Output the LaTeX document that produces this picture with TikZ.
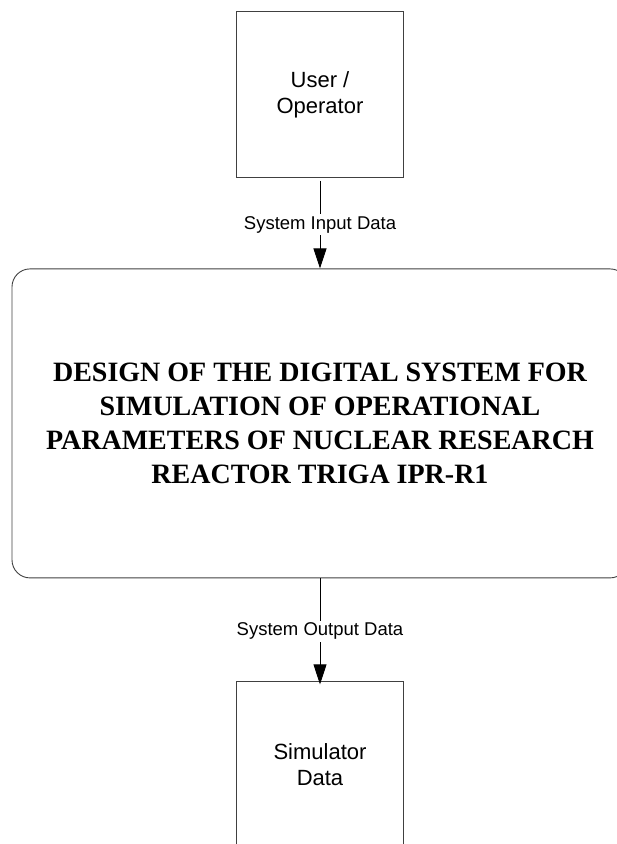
\documentclass[tikz,border=0pt]{standalone}
\usepackage{fontspec}
\setmainfont{Liberation Sans}
\newfontfamily\titlefont{Liberation Serif}
\usetikzlibrary{arrows.meta,positioning}
\definecolor{boxgray}{rgb}{0.25, 0.25, 0.25}

\begin{document}
\begin{tikzpicture}[x=1pt, y=-1pt,
        entity/.style={draw=boxgray, line width=0.9pt, minimum width=167pt,
            minimum height=166pt, inner sep=0pt, align=center,
            font=\fontsize{22}{26}\selectfont},
        process/.style={draw=boxgray, line width=0.9pt, rounded corners=18pt,
            minimum width=616pt, minimum height=309pt, inner sep=0pt,
            align=center, font=\titlefont\bfseries\fontsize{28}{34.3}\selectfont},
        flow/.style={black, line width=0.9pt, -{Triangle[length=20pt, width=13pt]}},
        flowlabel/.style={fill=white, inner sep=2pt, font=\fontsize{18.5}{22}\selectfont}]
        \useasboundingbox (0,0) rectangle (617,844);
        \clip (0,0) rectangle (617,844);

        \node[entity] (user) at (320,94.5) {User /\\Operator};
        \node[process, below=90.5pt of user] (sys)
            {DESIGN OF THE DIGITAL SYSTEM FOR\\SIMULATION OF OPERATIONAL\\
             PARAMETERS OF NUCLEAR RESEARCH\\REACTOR TRIGA IPR-R1};
        \node[entity, below=103pt of sys] (sim) {Simulator\\Data};

        \draw[flow] ([yshift=-3pt]user.south) -- node[flowlabel] {System Input Data} (sys.north);
        \draw[flow] (sys.south) -- node[flowlabel] {System Output Data} ([yshift=-3pt]sim.north);

    \end{tikzpicture}
\end{document}
